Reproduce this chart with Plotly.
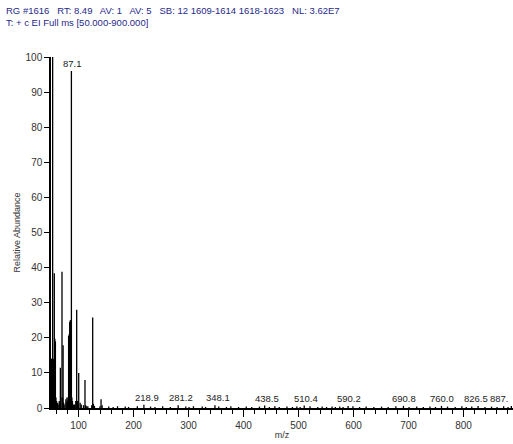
import plotly.graph_objects as go

# Low-mass fragment ions (m/z, relative abundance %)
frag_mz = [50, 51, 52, 53, 54, 55, 56, 57, 58, 59, 60, 62, 63, 65, 66, 67, 68,
           70, 71, 72, 73, 74, 77, 78, 79, 80, 81, 82, 83, 84, 85, 86, 87.1,
           88, 89, 91, 93, 95, 96.7, 98, 99, 100.4, 103, 105, 109, 111.8, 113,
           115, 117, 124, 125.8, 127, 129, 139, 141, 143]
frag_int = [13, 14, 14, 100, 14, 13.5, 38.4, 19.7, 19, 3, 2, 1.5, 1, 2, 1.5, 11.5, 3,
            38.8, 3, 17.9, 1.5, 1, 2.5, 1.5, 3, 2, 3, 20.5, 21, 24.5, 25, 25, 96,
            3, 2, 1, 1, 2, 28, 2, 1.5, 10, 1.5, 1, 0.8, 8, 0.8,
            0.5, 0.5, 0.8, 25.8, 1.2, 0.6, 0.5, 2.5, 0.8]

# Labelled higher-mass ions
lab_mz = [218.9, 281.2, 348.1, 438.5, 510.4, 590.2, 690.8, 760.0, 826.5, 887.0]
lab_int = [0.9, 0.8, 0.8, 0.7, 0.7, 0.6, 0.6, 0.6, 0.6, 0.6]
lab_text = ["218.9", "281.2", "348.1", "438.5", "510.4", "590.2", "690.8",
            "760.0", "826.5", "887."]

# Small background ions along the baseline
noise_mz = [155, 163, 171, 185, 191, 207, 231, 239, 253, 267, 295, 301, 309, 325,
            331, 355, 369, 377, 391, 405, 415, 429, 447, 457, 465, 479, 489, 497,
            503, 521, 535, 543, 551, 561, 567, 575, 581, 599, 611, 623, 637, 651,
            663, 677, 701, 715, 727, 739, 749, 771, 785, 797, 805, 815, 839, 851,
            861, 873, 881]
noise_int = [0.4, 0.3, 0.5, 0.4, 0.3, 0.5, 0.4, 0.3, 0.5, 0.3, 0.4, 0.3, 0.5, 0.4,
             0.3, 0.4, 0.3, 0.5, 0.3, 0.4, 0.3, 0.4, 0.3, 0.5, 0.3, 0.4, 0.3, 0.4,
             0.3, 0.5, 0.3, 0.4, 0.3, 0.4, 0.3, 0.4, 0.3, 0.5, 0.3, 0.4, 0.3, 0.4,
             0.3, 0.5, 0.3, 0.4, 0.3, 0.4, 0.3, 0.4, 0.3, 0.5, 0.3, 0.4, 0.3, 0.4,
             0.3, 0.5, 0.3]

x_ticks = [100, 200, 300, 400, 500, 600, 700, 800]
y_ticks = [0, 10, 20, 30, 40, 50, 60, 70, 80, 90, 100]


def stick_coords(mz, inten):
    xs, ys = [], []
    for m, h in zip(mz, inten):
        xs += [m, m, None]
        ys += [0, h, None]
    return xs, ys


all_mz = frag_mz + lab_mz + noise_mz
all_int = frag_int + lab_int + noise_int
sx, sy = stick_coords(all_mz, all_int)

fig = go.Figure()
fig.add_trace(go.Scatter(x=sx, y=sy, mode="lines",
                         line=dict(color="black", width=1.3),
                         hoverinfo="skip", showlegend=False))

label_font = dict(family="Liberation Sans, Arial, sans-serif", size=9.5, color="#222222")

# Base-peak label
fig.add_annotation(x=87.1, y=96, text="87.1", showarrow=False,
                   yanchor="bottom", xanchor="center", xshift=1, yshift=0,
                   font=label_font)
# Peak labels: the last one is right-aligned so it stays inside the plot edge
label_shift = [3, 3, 3, 2, 2, 1, 1, 0, -2, 0]
for i, (m, h, t) in enumerate(zip(lab_mz, lab_int, lab_text)):
    last = i == len(lab_mz) - 1
    fig.add_annotation(x=m, y=h, text=t, showarrow=False,
                       yanchor="bottom", xanchor="right" if last else "center",
                       xshift=label_shift[i], yshift=0,
                       font=label_font)

header = ("RG #1616   RT: 8.49   AV: 1   AV: 5   SB: 12 1609-1614 1618-1623   NL: 3.62E7"
          "<br>T: + c EI Full ms [50.000-900.000]")
fig.add_annotation(xref="paper", yref="paper", x=0, y=1, xanchor="left", yanchor="top",
                   text=header, showarrow=False, align="left",
                   font=dict(family="Liberation Sans, Arial, sans-serif", size=9.5,
                             color="#27288a"),
                   xshift=-47, yshift=54)

axis_font = dict(family="Liberation Sans, Arial, sans-serif", size=10, color="#333333")

fig.update_layout(
    width=513, height=444,
    margin=dict(l=51, r=0, t=57, b=36),
    paper_bgcolor="white", plot_bgcolor="white",
    xaxis=dict(range=[50, 890], tickvals=x_ticks, ticktext=[str(v) for v in x_ticks],
               ticks="outside", ticklen=7, tickwidth=1.3, tickcolor="black",
               minor=dict(dtick=20, tick0=0, ticks="outside", ticklen=4,
                          tickwidth=1.2, tickcolor="black"),
               showline=True, linecolor="black", linewidth=2,
               showgrid=False, zeroline=False, tickfont=axis_font,
               title=dict(text="m/z", font=dict(family="Liberation Sans, Arial, sans-serif",
                                                 size=9, color="#333333"), standoff=2)),
    yaxis=dict(range=[0, 100], tickvals=y_ticks, ticks="outside", ticklen=5,
               tickwidth=1.3, tickcolor="black",
               showline=True, linecolor="black", linewidth=1.5,
               showgrid=False, zeroline=False, tickfont=axis_font,
               title=dict(text="Relative Abundance",
                          font=dict(family="Liberation Sans, Arial, sans-serif",
                                    size=9, color="#333333"), standoff=3)),
)

fig.write_html("out.html")
